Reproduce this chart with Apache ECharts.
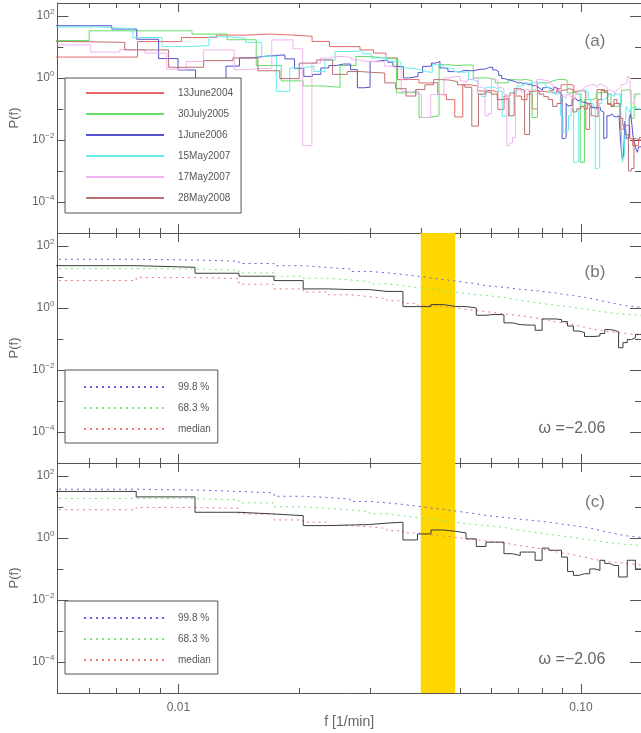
<!DOCTYPE html>
<html><head><meta charset="utf-8">
<script src="https://cdn.jsdelivr.net/npm/echarts@6/dist/echarts.min.js"></script>
<style>html,body{margin:0;padding:0;background:#fff}#c{width:641px;height:733px}</style>
</head><body><div id="c"></div><script>
// ---------- axis / tick data ----------
const X_MIN = 0.005, X_MAX = 0.141;
const Y_MIN = 1e-5, Y_MAX = 260;
const xMajorTicks = [0.01, 0.1];
const xTickLabels = ['0.01', '0.10'];
const xMinorTicks = [0.006, 0.007, 0.008, 0.009, 0.02, 0.03, 0.04, 0.05, 0.06, 0.07, 0.08, 0.09];
const yMajorTicks = [1e-4, 1e-2, 1, 100];
const yMinorTicks = [1e-3, 0.1, 10];
const bandRange = [0.04, 0.0487];
const panelLetters = ['(a)', '(b)', '(c)'];
const omegaText = 'ω =−2.06';

// ---------- panel (a): six spectra (frequency step df, first bin index k0, values) ----------
const namesA = ['13June2004', '30July2005', '1June2006', '15May2007', '17May2007', '28May2008'];
const dfA = [0.00226, 0.0024, 0.00105, 0.0014, 0.0011, 0.0021];
const k0A = [2, 2, 5, 4, 5, 2];
const june2004 = [4.7,4.7,14.8,20,24,26,24,22,15,10.2,
  10.2,8,6.3,4.4,0.88,0.9,0.69,0.7,0.29,0.2,
  0.055,0.6,0.55,0.38,0.4,0.35,0.097,0.26,0.33,0.26,
  0.2,0.3,0.1,0.37,0.35,0.4,0.33,0.45,0.6,0.61,
  0.58,0.37,0.4,0.35,0.022,0.11,0.1,0.42,0.37,0.4,
  0.14,0.124,0.15,0.14,0.022,0.03,0.028,0.011,0.0065,0.0065,
  0.01];
const july2005 = [16,33,33,26,17,2.5,0.8,0.55,0.5,2.5,
  4.9,4.4,4.2,0.33,0.35,0.053,0.06,2.66,2.5,2.6,
  2.6,1.0,1.0,0.9,0.69,0.7,0.88,0.85,0.9,0.8,
  0.053,0.7,0.69,0.8,0.88,0.9,0.85,0.33,0.35,0.3,
  0.0019,0.2,0.2,0.22,0.33,0.33,0.35,0.3,0.124,0.12,
  0.13,0.4,0.42,0.4,0.05,0.3,0.3];
const june2006 = [48,48,37.6,17.6,4.2,1.8,0.5,0.7,2.4,4.4,
  4.9,5.3,5.5,4.1,2.0,1.12,1.3,2.1,2.5,2.8,
  2.8,1.84,0.48,0.5,3.4,3.6,3.8,3.2,2.35,2.3,
  1.0,1.05,1.12,1.5,2.35,2.4,3.0,3.4,2.1,2.0,
  1.6,1.6,1.55,1.7,1.75,1.7,1.7,1.8,1.9,1.9,
  2.0,2.2,2.2,1.8,1.6,1.2,0.95,0.88,0.85,0.8,
  0.75,0.69,0.7,0.65,0.69,0.6,0.62,0.55,0.58,0.5,
  0.45,0.4,0.48,0.5,0.48,0.45,0.4,0.5,0.45,0.35,
  0.3,0.011,0.012,0.15,0.124,0.13,0.2,0.22,0.2,0.18,
  0.2,0.17,0.16,0.16,0.15,0.14,0.12,0.11,0.1,0.11,
  0.1,0.11,0.09,0.08,0.011,0.012,0.06,0.06,0.065,0.07,
  0.06,0.055,0.05,0.06,0.05,0.0085,0.0025,0.003,0.04,0.011,
  0.012,0.05,0.07,0.03,0.011,0.008,0.005,0.004,0.006,0.006];
const may2007a = [44,38,20,10.2,11,21,19,14,5,0.37,
  2.1,2.4,1.6,3.8,7.1,7.1,7.5,6,4.4,4.6,
  3.5,3.2,2.1,2.0,1.8,1.6,1.5,2.66,2.5,2.1,
  2.0,1.6,1.5,1.6,0.88,0.8,0.3,0.25,0.5,0.5,
  0.45,0.37,0.059,0.06,0.33,0.35,0.55,0.6,0.69,0.65,
  0.7,0.75,0.7,0.69,0.6,0.5,0.33,0.35,0.3,0.33,
  0.06,0.018,0.02,0.06,0.1,0.0019,0.002,0.1,0.4,0.42,
  0.35,0.2,0.15,0.12,0.0012,0.0013,0.15,0.2,0.22,0.25,
  0.3,0.28,0.25,0.3,0.33,0.3,0.2,0.0019,0.003,0.12,
  0.1,0.08,0.11,0.1,0.12,0.1,0.1];
const may2007b = [11.6,6.8,8.2,6.3,1.9,3.4,8.0,8.0,1.84,2.0,
  2.0,16.7,17,8.7,0.0065,3.0,4.4,4.9,4.9,4.5,
  3.8,3.4,3.4,3.3,3.4,2.4,2.2,2.0,0.37,0.35,
  0.4,0.3,0.053,0.055,0.29,0.3,0.28,1.0,1.05,1.12,
  1.1,0.8,0.75,0.9,1.0,0.95,0.5,0.45,0.06,0.07,
  0.9,0.85,0.5,0.45,0.3,0.0065,0.008,0.012,0.4,0.45,
  0.35,0.4,0.42,0.35,0.4,0.45,0.88,0.9,0.85,0.8,
  0.82,0.7,0.6,0.45,0.4,0.42,0.3,0.25,0.22,0.28,
  0.3,0.25,0.2,0.22,0.3,0.35,0.4,0.45,0.5,0.55,
  0.5,0.6,0.62,0.6,0.55,0.5,0.6,0.65,0.6,0.55,
  0.5,0.45,0.4,0.38,0.4,0.35,0.3,0.4,0.45,0.5,
  0.6,0.62,0.65,0.7,1.12,1.0,0.3,0.16,0.15,0.2,
  0.25,0.3,0.3];
const may2008 = [15,14,8,2.2,3.6,4.4,1.7,0.95,3.0,3.8,
  1.3,1.6,1.5,1.44,0.69,0.45,0.26,0.42,0.6,0.88,
  0.85,0.75,0.6,0.5,0.028,0.3,0.35,0.3,0.2,0.22,
  0.06,0.45,0.4,0.015,0.37,0.4,0.3,0.25,0.2,0.12,
  0.15,0.4,0.45,0.42,0.08,0.1,0.12,0.1,0.15,0.06,
  0.055,0.2,0.42,0.35,0.15,0.12,0.2,0.15,0.05,0.03,
  0.015,0.001,0.0012,0.011,0.01,0.012];
const valuesA = [june2004, july2005, june2006, may2007a, may2007b, may2008];
const colorsA = ['#e46868', '#66dc66', '#5252cc', '#66ecec', '#f0b4f0', '#b87070'];

// ---------- panels (b) and (c) ----------
const dfBC = 0.00314, k0BC = 2;
const pctNames = ['99.8 %', '68.3 %', 'median'];
const bSpectrum = [23,20.4,13.1,10.5,7.6,4.1,3.9,3.9,3.4,3.4,
  1.1,1.1,1.28,1.12,1.1,1.0,0.58,0.62,0.6,0.33,
  0.29,0.28,0.28,0.19,0.44,0.44,0.42,0.36,0.26,0.18,
  0.16,0.12,0.12,0.125,0.15,0.2,0.19,0.17,0.052,0.076,
  0.095,0.11,0.14,0.14];
const b998 = [37,35,32,27,23,20,18,15,13.5,12,
  10.5,9.2,8.2,7.4,6.6,6.0,5.2,4.9,4.6,4.3,
  4.0,3.8,3.6,3.4,3.2,3.0,2.8,2.65,2.5,2.35,
  2.2,2.05,1.9,1.75,1.6,1.5,1.4,1.3,1.22,1.16,
  1.12,1.1,1.06,1.03];
const b683 = [18.5,18,16.5,13.5,10.5,9,8,7,6,5.2,
  4.5,4.0,3.6,3.2,2.9,2.7,2.5,2.35,2.2,1.95,
  1.75,1.6,1.5,1.4,1.3,1.22,1.16,1.1,1.03,0.97,
  0.92,0.87,0.82,0.78,0.74,0.7,0.67,0.65,0.63,0.61,
  0.6,0.59,0.58,0.57];
const bMedian = [7.6,9.5,8.8,5.8,4.1,3.25,2.65,2.3,2.0,1.7,
  1.4,1.2,1.1,1.0,0.9,0.82,0.76,0.7,0.64,0.6,
  0.56,0.52,0.48,0.44,0.4,0.36,0.33,0.31,0.29,0.26,
  0.24,0.22,0.2,0.19,0.18,0.17,0.165,0.16,0.155,0.15,
  0.145,0.14,0.135,0.13];
const cSpectrum = [31.5,21,6.7,5.9,5.2,2.5,2.6,2.7,3.0,3.2,
  0.86,1.34,1.8,1.64,1.45,0.93,0.53,0.73,0.73,0.31,
  0.27,0.35,0.35,0.19,0.47,0.4,0.4,0.24,0.083,0.062,
  0.07,0.07,0.1,0.09,0.19,0.15,0.13,0.13,0.055,0.055,
  0.19,0.19,0.1,0.1];
const c998 = [37,35,31.5,28.3,22,20,18,15,13.5,12,
  10.5,9.2,8.2,7.4,6.6,6.0,5.3,4.9,4.6,4.3,
  4.0,3.8,3.6,3.4,3.2,3.0,2.8,2.65,2.5,2.35,
  2.2,2.05,1.9,1.75,1.6,1.5,1.4,1.3,1.22,1.16,
  1.12,1.1,1.06,1.03];
const c683 = [18.7,18.7,16.9,13.5,10.1,9.0,8.0,7.0,6.0,5.2,
  4.5,4.0,3.6,3.2,2.9,2.7,2.5,2.35,2.2,1.95,
  1.75,1.6,1.5,1.4,1.3,1.22,1.16,1.1,1.03,0.97,
  0.92,0.87,0.82,0.78,0.74,0.7,0.67,0.65,0.63,0.61,
  0.6,0.59,0.58,0.57];
const cMedian = [8.1,9.6,9.0,5.9,3.8,3.2,2.5,2.3,2.0,1.7,
  1.45,1.25,1.15,1.05,0.95,0.86,0.8,0.74,0.68,0.62,
  0.56,0.52,0.48,0.44,0.4,0.36,0.33,0.31,0.29,0.26,
  0.24,0.22,0.2,0.19,0.18,0.17,0.165,0.16,0.155,0.15,
  0.145,0.14,0.135,0.13];
const pctColors = ['#6464e6', '#78e678', '#f07878'];

// ---------- helpers ----------
const FONT = '"Liberation Sans", Arial, sans-serif';
const AX = '#555', TXT = '#666';
const panelTops = [3, 233, 463];
const PANEL_H = 230;

function hist(df, k0, vals) {
  const pts = vals.map((v, i) => [(k0 + i - 0.5) * df, v]);
  pts.push([(k0 + vals.length - 0.5) * df, vals[vals.length - 1]]);
  return pts;
}
function supLabel(v) {
  const e = Math.round(Math.log10(v));
  return '{b|10}{s|' + (e < 0 ? '\u2212' + (-e) : String(e)) + '}';
}

const grids = [], xAxes = [], yAxes = [], series = [];
panelTops.forEach((top, p) => {
  const last = p === 2;
  grids.push({ left: 52, top: top, width: 590, height: PANEL_H, show: false });
  const baseX = { type: 'log', gridIndex: p, min: X_MIN, max: X_MAX, splitLine: { show: false } };
  xAxes.push(Object.assign({}, baseX, {
    position: 'bottom',
    axisLine: { show: true, onZero: false, lineStyle: { color: AX, width: 1 } },
    axisTick: { show: true, inside: true, length: 9, customValues: xMajorTicks, lineStyle: { color: AX } },
    axisLabel: { show: last, customValues: xMajorTicks, margin: 9, color: TXT, fontSize: 12, fontFamily: FONT,
      formatter: v => xTickLabels[xMajorTicks.findIndex(t => Math.abs(t - v) / t < 1e-6)] || '' },
    name: last ? 'f [1/min]' : '', nameLocation: 'middle', nameGap: 22,
    nameTextStyle: { fontSize: 14, color: TXT, fontFamily: FONT }
  }));
  xAxes.push(Object.assign({}, baseX, {
    position: 'bottom', axisLine: { show: false, onZero: false },
    axisTick: { show: true, inside: true, length: 5, customValues: xMinorTicks, lineStyle: { color: AX } },
    axisLabel: { show: false }
  }));
  xAxes.push(Object.assign({}, baseX, {
    position: 'top',
    axisLine: { show: true, onZero: false, lineStyle: { color: AX, width: 1 } },
    axisTick: { show: true, inside: true, length: 9, customValues: xMajorTicks, lineStyle: { color: AX } },
    axisLabel: { show: false }
  }));
  xAxes.push(Object.assign({}, baseX, {
    position: 'top', axisLine: { show: false, onZero: false },
    axisTick: { show: true, inside: true, length: 5, customValues: xMinorTicks, lineStyle: { color: AX } },
    axisLabel: { show: false }
  }));

  const baseY = { type: 'log', gridIndex: p, min: Y_MIN, max: Y_MAX, splitLine: { show: false } };
  yAxes.push(Object.assign({}, baseY, {
    position: 'left',
    axisLine: { show: true, onZero: false, lineStyle: { color: AX, width: 1 } },
    axisTick: { show: true, inside: true, length: 11, customValues: yMajorTicks, lineStyle: { color: AX } },
    axisLabel: { show: true, customValues: yMajorTicks, margin: 3, formatter: supLabel,
      rich: { b: { fontSize: 12, color: TXT, fontFamily: FONT },
              s: { fontSize: 8, color: TXT, fontFamily: FONT, padding: [0, 0, 8, 0] } } },
    name: 'P(f)', nameLocation: 'middle', nameGap: 33,
    nameTextStyle: { fontSize: 13, color: TXT, fontFamily: FONT }
  }));
  yAxes.push(Object.assign({}, baseY, {
    position: 'left', axisLine: { show: false, onZero: false },
    axisTick: { show: true, inside: true, length: 6, customValues: yMinorTicks, lineStyle: { color: AX } },
    axisLabel: { show: false }
  }));
  yAxes.push(Object.assign({}, baseY, {
    position: 'right',
    axisLine: { show: true, onZero: false, lineStyle: { color: AX, width: 1 } },
    axisTick: { show: true, inside: true, length: 11, customValues: yMajorTicks, lineStyle: { color: AX } },
    axisLabel: { show: false }
  }));
  yAxes.push(Object.assign({}, baseY, {
    position: 'right', axisLine: { show: false, onZero: false },
    axisTick: { show: true, inside: true, length: 6, customValues: yMinorTicks, lineStyle: { color: AX } },
    axisLabel: { show: false }
  }));
});

function stepSeries(name, p, data, color, dashed, z) {
  return {
    type: 'line', name: name, xAxisIndex: 4 * p, yAxisIndex: 4 * p, data: data,
    step: 'end', symbol: 'none', showSymbol: false, silent: true, z: z,
    lineStyle: { color: color, width: 1, type: dashed ? [2, 4] : 'solid' },
    itemStyle: { color: color }
  };
}

// panel (a)
namesA.forEach((n, i) => {
  series.push(stepSeries(n, 0, hist(dfA[i], k0A[i], valuesA[i]), colorsA[i], false, 2));
});
// panels (b), (c)
const pctData = [[b998, b683, bMedian], [c998, c683, cMedian]];
const specData = [bSpectrum, cSpectrum];
[1, 2].forEach((p, j) => {
  series.push({
    type: 'line', name: 'band' + p, xAxisIndex: 4 * p, yAxisIndex: 4 * p, data: [], z: 1, silent: true,
    markArea: { silent: true, itemStyle: { color: '#FFD700', opacity: 1 },
      data: [[{ xAxis: bandRange[0] }, { xAxis: bandRange[1] }]] }
  });
  pctNames.forEach((n, i) => {
    series.push(stepSeries(n, p, hist(dfBC, k0BC, pctData[j][i]), pctColors[i], true, 2));
  });
  series.push(stepSeries('spectrum' + p, p, hist(dfBC, k0BC, specData[j]), '#3c3c3c', false, 3));
});

const legendBase = {
  orient: 'vertical', itemHeight: 10, itemGap: 11, borderColor: AX, borderWidth: 1,
  backgroundColor: '#fff', selectedMode: false, z: 10,
  itemStyle: { opacity: 0 },
  textStyle: { fontSize: 10, color: '#555', fontFamily: FONT, padding: [0, 0, 0, 9] }
};
const legends = [
  Object.assign({}, legendBase, { left: 65, top: 78, padding: [10, 8, 10, 20], itemWidth: 78, data: namesA }),
  Object.assign({}, legendBase, { left: 65, top: 370, padding: [12, 7, 9, 18], itemWidth: 80, data: pctNames }),
  Object.assign({}, legendBase, { left: 65, top: 601, padding: [12, 7, 9, 18], itemWidth: 80, data: pctNames })
];

const letterY = [41, 272, 502];
const graphics = [];
panelLetters.forEach((t, p) => graphics.push({
  type: 'text', x: 595, y: letterY[p], z: 20,
  style: { text: t, fontSize: 17, fontFamily: FONT, fill: '#777', align: 'center', verticalAlign: 'middle' }
}));
[429, 660].forEach(y => graphics.push({
  type: 'text', x: 572, y: y, z: 20,
  style: { text: omegaText, fontSize: 16, fontFamily: FONT, fill: '#666', align: 'center', verticalAlign: 'middle' }
}));

const chart = echarts.init(document.getElementById('c'), null, { renderer: 'canvas' });
chart.setOption({
  animation: false,
  backgroundColor: '#fff',
  grid: grids, xAxis: xAxes, yAxis: yAxes,
  legend: legends,
  graphic: graphics,
  series: series
});
</script></body></html>
